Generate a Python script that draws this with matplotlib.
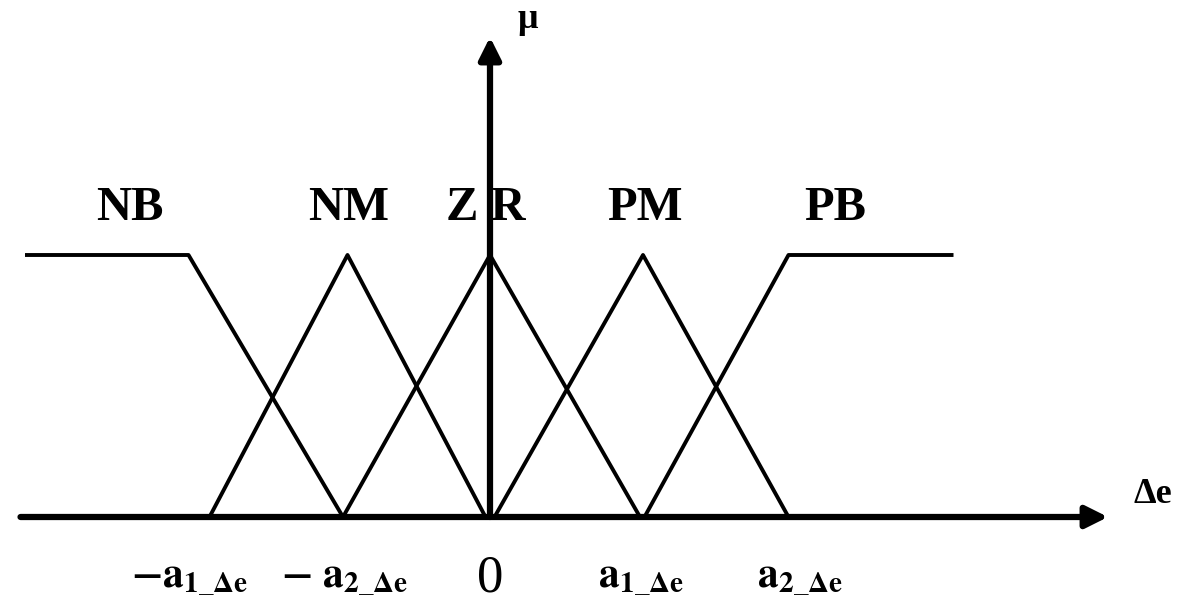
import matplotlib.pyplot as plt

plt.rcParams["font.family"] = "Liberation Serif"
plt.rcParams["mathtext.fontset"] = "stix"

# membership functions (x in units of a, y = membership degree)
nb_x = [-3.1, -2.01, -0.98]
nb_y = [1, 1, 0]
nm_x = [-1.87, -0.95, -0.03]
nm_y = [0, 1, 0]
zr_x = [-0.98, 0.0, 1.0]
zr_y = [0, 1, 0]
pm_x = [0.03, 1.02, 1.99]
pm_y = [0, 1, 0]
pb_x = [1.03, 1.99, 3.09]
pb_y = [0, 1, 1]

set_names = ["NB", "NM", "Z R", "PM", "PB"]
tick_pos = [-2.0, -0.97, 0.0, 1.01, 2.07]
tick_labels = [r"$\mathbf{-a}_{\mathbf{1\_\Delta e}}$",
               r"$\mathbf{-\ a}_{\mathbf{2\_\Delta e}}$",
               "0",
               r"$\mathbf{a}_{\mathbf{1\_\Delta e}}$",
               r"$\mathbf{a}_{\mathbf{2\_\Delta e}}$"]

fig = plt.figure(figsize=(11.82, 6.04), dpi=100)
ax = fig.add_axes([0, 0, 1, 1])
ax.set_xlim(-490 / 150, (1182 - 490) / 150)
ax.set_ylim((517 - 604) / 262, 517 / 262)
ax.set_axis_off()

for xs, ys in [(nb_x, nb_y), (nm_x, nm_y), (zr_x, zr_y), (pm_x, pm_y), (pb_x, pb_y)]:
    ax.plot(xs, ys, color="black", lw=2.8, solid_capstyle="butt")

# axes with arrows
arrow = dict(arrowstyle="-|>,head_length=0.6,head_width=0.3", lw=4.5,
             color="black", shrinkA=0, shrinkB=0, mutation_scale=22)
ax.annotate("", xy=(4.12, 0), xytext=(-3.13, 0), arrowprops=arrow)
ax.annotate("", xy=(0, 1.832), xytext=(0, 0), arrowprops=arrow)

ax.text(0.25, 1.9, "μ", fontsize=26, fontweight="bold", ha="center", va="center")
ax.text(4.42, 0.085, "Δe", fontsize=26, fontweight="bold", ha="center", va="center")

# set names above the peaks
name_x = [-2.4, -0.94, -0.03, 1.03, 2.3]
for nx, name in zip(name_x, set_names):
    ax.text(nx, 1.18, name, fontsize=35, fontweight="bold", ha="center", va="center")

for tx, lab in zip(tick_pos, tick_labels):
    size = 38 if lab == "0" else 30
    ax.text(tx, -0.235, lab, fontsize=size, ha="center", va="center")

fig.savefig("out.png", dpi=100, facecolor="white")
